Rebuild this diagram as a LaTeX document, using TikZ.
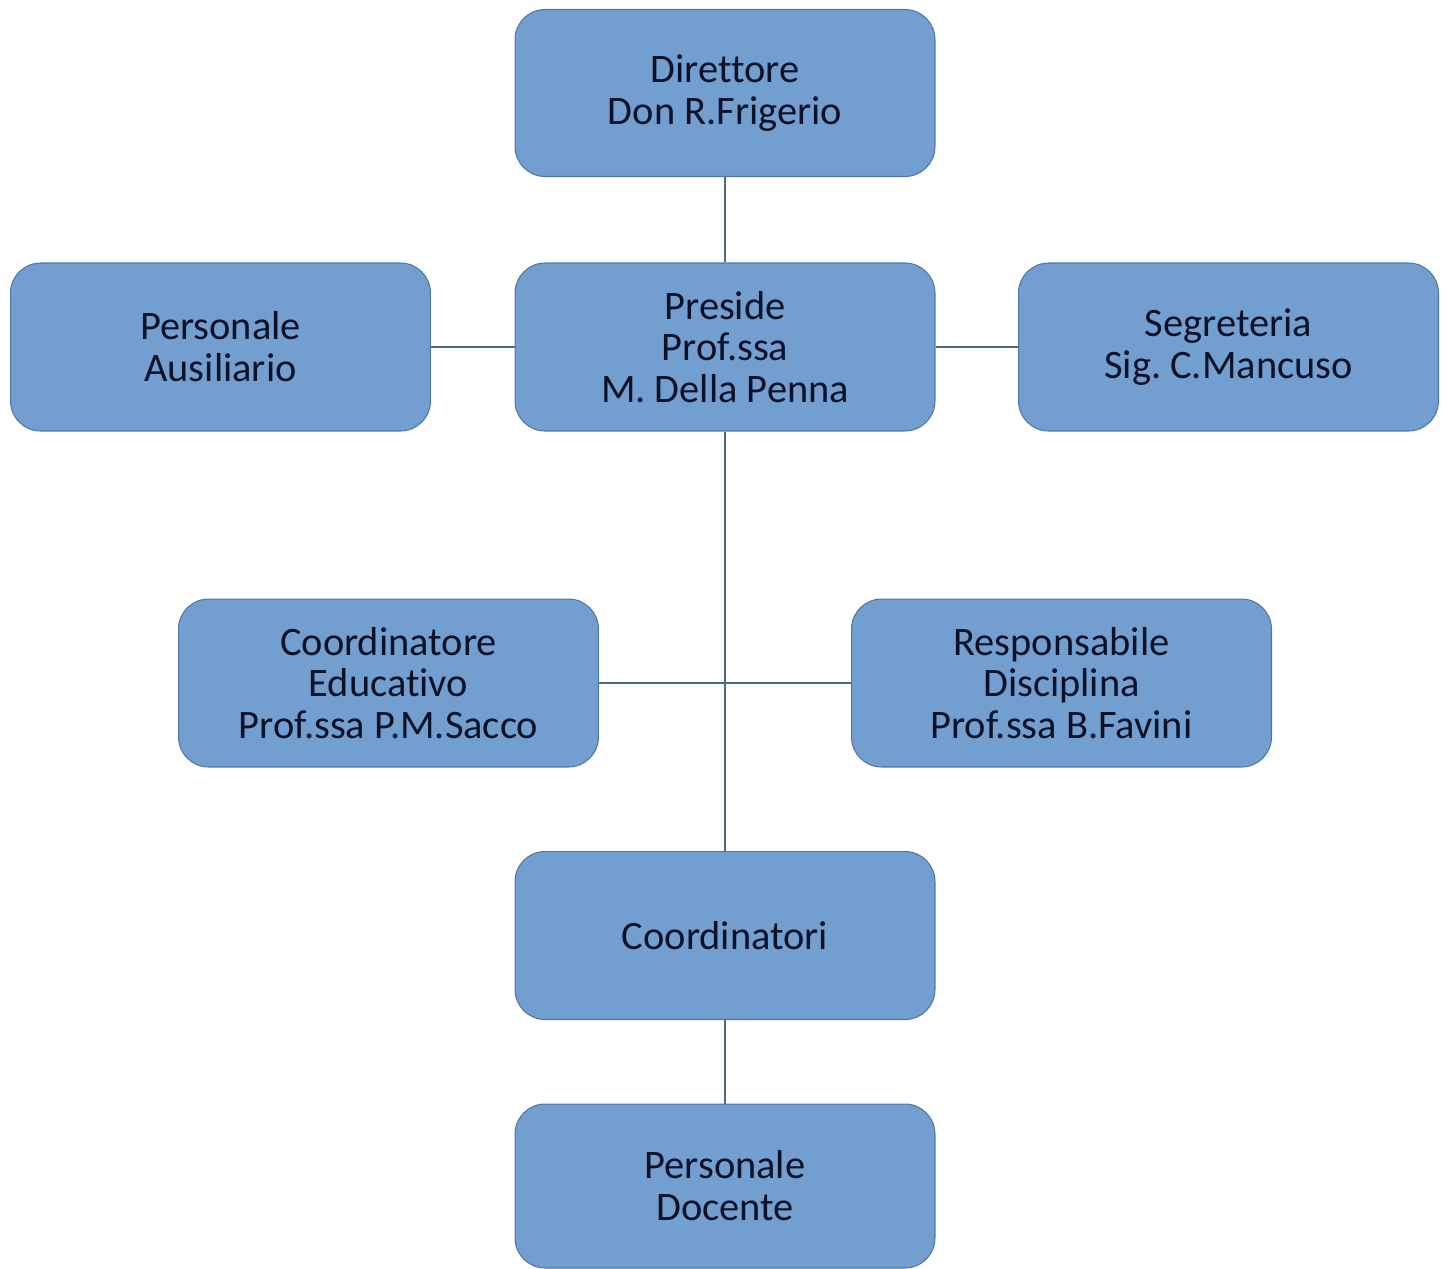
\documentclass[tikz,border=0pt]{standalone}
\usepackage{fontspec}
\setmainfont[Ligatures={NoCommon}]{Carlito}
\usepackage{xcolor}
\definecolor{boxfill}{HTML}{729FCF}
\definecolor{boxline}{HTML}{4F77A6}
\definecolor{linkline}{HTML}{4E6A86}
\definecolor{boxtext}{HTML}{0B1126}
\usetikzlibrary{calc}
\frenchspacing

\begin{document}
\begin{tikzpicture}[x=0.02cm, y=-0.02cm,
    ruolo/.style={draw=boxline, line width=0.6pt, fill=boxfill, rounded corners=0.6cm,
        minimum width=8.4cm, minimum height=3.34cm, align=center, text=boxtext,
        font=\fontsize{23}{23.8}\selectfont, inner sep=0pt},
    link/.style={draw=linkline, line width=1pt}]

            \useasboundingbox (0, 0) rectangle (1449, 1268);

            \node[ruolo] (dir) at (725, 93) {Direttore\\Don R.Frigerio};
            \node[ruolo, minimum height=3.36cm] (pre) at (725, 347) {Preside\\Prof.ssa\\M. Della Penna};
            \node[ruolo, minimum height=3.36cm] (aus) at (220.5, 347) {Personale\\Ausiliario};
            \node[ruolo, minimum height=3.36cm] (seg) at (1228.5, 347) {Segreteria\\Sig. C.Mancuso};

            \node[ruolo, minimum height=3.36cm] (edu) at (388.5, 683) {Coordinatore\\Educativo\\Prof.ssa P.M.Sacco};
            \node[ruolo, minimum height=3.36cm] (dis) at (1061.5, 683) {Responsabile\\Disciplina\\Prof.ssa B.Favini};

            \node[ruolo, minimum height=3.36cm] (coo) at (725, 935.5) {Coordinatori};
            \node[ruolo, minimum height=3.28cm] (doc) at (725, 1186) {Personale\\Docente};

            \draw[link] (dir) -- (pre);
            \draw[link] (aus) -- (pre);
            \draw[link] (pre) -- (seg);
            \draw[link] (pre) -- (coo);
            \draw[link] (edu) -- (dis);
            \draw[link] (coo) -- (doc);

          \end{tikzpicture}
\end{document}
